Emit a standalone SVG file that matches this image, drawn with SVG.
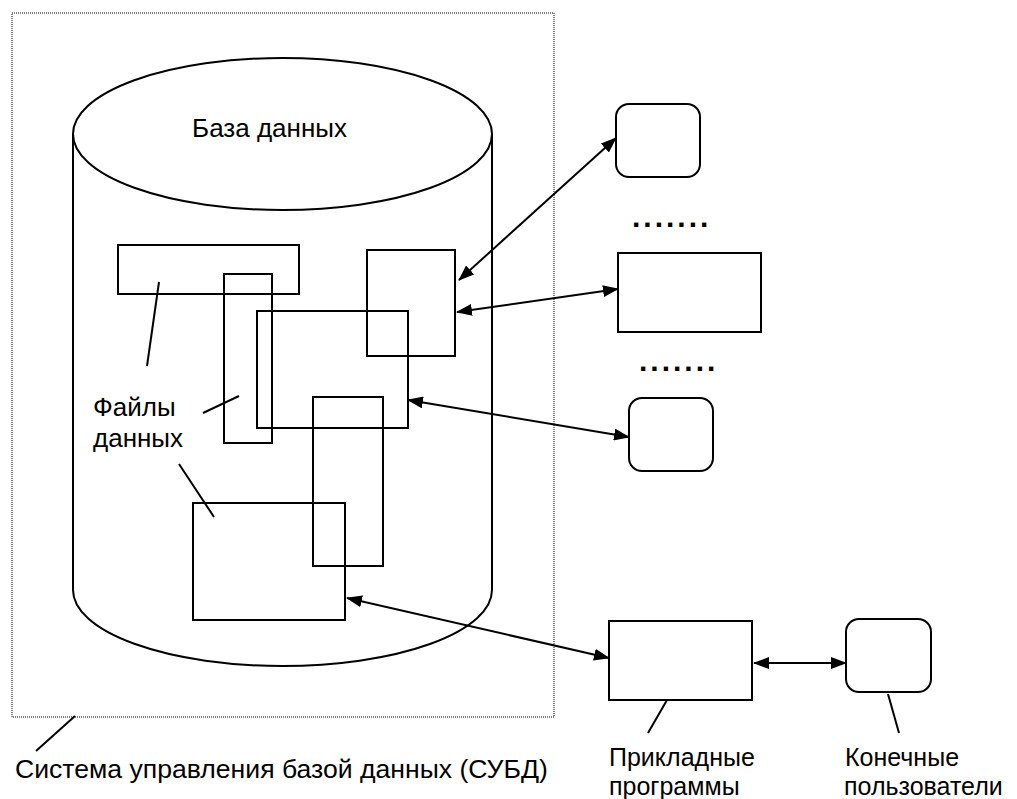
<svg xmlns="http://www.w3.org/2000/svg" width="1017" height="799" viewBox="0 0 1017 799">
  <style>
    .box { fill: none; stroke: #000; stroke-width: 2; }
    .rbox { fill: #fff; stroke: #000; stroke-width: 2; }
    .lead { fill: none; stroke: #000; stroke-width: 2; }
    .link { fill: none; stroke: #000; stroke-width: 2; marker-start: url(#head); marker-end: url(#head); }
    .lbl { font-family: "Liberation Sans", Arial, sans-serif; font-size: 26px; fill: #000; }
    .cap { font-family: "Liberation Sans", Arial, sans-serif; font-size: 25px; fill: #000; }
    .dots { font-family: "Liberation Sans", Arial, sans-serif; font-size: 30px; font-weight: bold; letter-spacing: 3px; fill: #000; }
  </style>
  <defs>
    <marker id="head" viewBox="0 0 16 12" refX="15" refY="6" markerWidth="16" markerHeight="12" markerUnits="userSpaceOnUse" orient="auto-start-reverse">
      <path d="M0,0 L16,6 L0,12 Z" fill="#000"/>
    </marker>
  </defs>
  <rect width="1017" height="799" fill="#fff"/>

  <!-- DBMS boundary -->
  <g id="dbms">
    <rect x="12" y="13" width="542" height="704" fill="none" stroke="#000" stroke-width="1" stroke-dasharray="1 1"/>
    <line class="lead" x1="36" y1="751" x2="75" y2="716" stroke-width="1.5"/>
    <text class="lbl" x="15" y="778" style="font-size:26.6px">Система управления базой данных (СУБД)</text>
  </g>

  <!-- database cylinder -->
  <g id="database">
    <path class="box" d="M73,134 L73,590 A209.5,76 0 0 0 492,590 L492,134"/>
    <ellipse class="box" cx="282.5" cy="134" rx="209.5" ry="76"/>
    <text class="lbl" x="269.5" y="137" text-anchor="middle">База данных</text>
  </g>

  <!-- data files -->
  <g id="files">
    <rect class="box" x="118" y="245" width="181" height="49"/>
    <rect class="box" x="224" y="274" width="48" height="169"/>
    <rect class="box" x="257" y="311" width="151" height="117"/>
    <rect class="box" x="367" y="250" width="88" height="106"/>
    <rect class="box" x="313" y="397" width="70" height="169"/>
    <rect class="box" x="193" y="503" width="152" height="117"/>
    <line class="lead" x1="159" y1="282" x2="147" y2="366"/>
    <line class="lead" x1="203" y1="413" x2="239" y2="396"/>
    <line class="lead" x1="179" y1="464" x2="214" y2="517"/>
    <text class="lbl" x="93" y="416">Файлы</text>
    <text class="lbl" x="93" y="447">данных</text>
  </g>

  <!-- client boxes -->
  <g id="client-1">
    <rect class="rbox" x="616" y="104" width="84" height="73" rx="13"/>
  </g>
  <text class="dots" x="632" y="227">.......</text>
  <g id="client-2">
    <rect class="rbox" x="618" y="253" width="143" height="79"/>
  </g>
  <text class="dots" x="639" y="371">.......</text>
  <g id="client-3">
    <rect class="rbox" x="629" y="398" width="84" height="73" rx="13"/>
  </g>

  <g id="apps">
    <rect class="rbox" x="609" y="621" width="143" height="79"/>
    <line class="lead" x1="667" y1="700" x2="648" y2="733" stroke-width="1.5"/>
    <text class="cap" x="609" y="766">Прикладные</text>
    <text class="cap" x="609" y="795">программы</text>
  </g>

  <g id="users">
    <rect class="rbox" x="846" y="619" width="85" height="73" rx="13"/>
    <line class="lead" x1="888" y1="694" x2="899" y2="733" stroke-width="1.5"/>
    <text class="cap" x="845" y="766">Конечные</text>
    <text class="cap" x="844" y="795">пользователи</text>
  </g>

  <!-- connectors -->
  <g id="connectors">
    <line class="link" x1="459" y1="280" x2="616" y2="138"/>
    <line class="link" x1="457" y1="312" x2="618" y2="289"/>
    <line class="link" x1="408" y1="400" x2="629" y2="437"/>
    <line class="link" x1="347" y1="598" x2="609" y2="658"/>
    <line class="link" x1="754" y1="663" x2="846" y2="663"/>
  </g>
</svg>
